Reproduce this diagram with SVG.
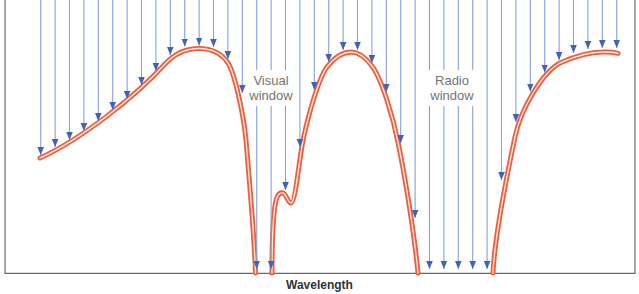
<svg xmlns="http://www.w3.org/2000/svg" width="639" height="294" viewBox="0 0 639 294">
<style>
.ray{stroke:#86a0d8;stroke-width:1.1;fill:none;marker-end:url(#head)}
.frame{stroke:#6a6a6a;stroke-width:1.2;fill:none}
.curveOut{stroke:#e8603f;stroke-width:5;fill:none;stroke-linecap:round;stroke-linejoin:round}
.curveIn{stroke:#fde2d8;stroke-width:1.4;fill:none;stroke-linecap:round;stroke-linejoin:round}
.lbl{font-family:"Liberation Sans",Arial,sans-serif;font-size:13px;fill:#747474;text-anchor:middle}
.axis{font-family:"Liberation Sans",Arial,sans-serif;font-size:12px;font-weight:bold;fill:#333;text-anchor:middle}
</style>
<defs>
<marker id="head" viewBox="0 -4 8 8" markerWidth="8" markerHeight="8" refX="8" refY="0" orient="auto" markerUnits="userSpaceOnUse">
<path d="M0,-3.3 L8,0 L0,3.3 z" fill="#4262b8"/>
</marker>
<path id="c1" d="M40,158 C80,140 135,97 165,64 C177,51 190,48.5 199,48.5 C212,48.5 222,54 228,63 C234,72 243,110 246,140 C248,165 254,230 255.5,273"/>
<path id="c2" d="M272,273 C272,240 273,208 277,197 C278.5,194 281,192.5 283,193 C286,193.5 288,203 291,203 C295,203 298,170 302,146 C306,123 318,79 327,67 C334,58 343,52 351,52 C359,52 366,58 372,66 C381,78 393,115 399,147 C404,172 414,230 418,273"/>
<path id="c3" d="M493,273 C495,230 509.5,163.5 515,137 C521,108 543,72 560,63 C572,57.5 588,52 603,52 C610,51.7 615,52.5 618,53.3"/>
</defs>
<rect x="0" y="0" width="639" height="294" fill="#ffffff"/>
<g id="frame">
<path class="frame" d="M5,0 V273.3 H635 V0"/>
</g>
<g id="curve">
<use href="#c1" class="curveOut"/><use href="#c1" class="curveIn"/>
<use href="#c2" class="curveOut"/><use href="#c2" class="curveIn"/>
<use href="#c3" class="curveOut"/><use href="#c3" class="curveIn"/>
</g>
<g id="connectors">
<line class="ray" x1="40.7" y1="0" x2="40.7" y2="155"/>
<line class="ray" x1="55.1" y1="0" x2="55.1" y2="147"/>
<line class="ray" x1="69.5" y1="0" x2="69.5" y2="140"/>
<line class="ray" x1="83.9" y1="0" x2="83.9" y2="131"/>
<line class="ray" x1="98.3" y1="0" x2="98.3" y2="121"/>
<line class="ray" x1="112.7" y1="0" x2="112.7" y2="110"/>
<line class="ray" x1="127.1" y1="0" x2="127.1" y2="99"/>
<line class="ray" x1="141.5" y1="0" x2="141.5" y2="85"/>
<line class="ray" x1="155.9" y1="0" x2="155.9" y2="71"/>
<line class="ray" x1="170.3" y1="0" x2="170.3" y2="55"/>
<line class="ray" x1="184.7" y1="0" x2="184.7" y2="46.5"/>
<line class="ray" x1="199.1" y1="0" x2="199.1" y2="45.5"/>
<line class="ray" x1="213.5" y1="0" x2="213.5" y2="47"/>
<line class="ray" x1="227.9" y1="0" x2="227.9" y2="59"/>
<line class="ray" x1="242.3" y1="0" x2="242.3" y2="93"/>
<line class="ray" x1="256.7" y1="0" x2="256.7" y2="269"/>
<line class="ray" x1="271.1" y1="0" x2="271.1" y2="269"/>
<line class="ray" x1="285.5" y1="0" x2="285.5" y2="190"/>
<line class="ray" x1="299.9" y1="0" x2="299.9" y2="147"/>
<line class="ray" x1="314.3" y1="0" x2="314.3" y2="90"/>
<line class="ray" x1="328.7" y1="0" x2="328.7" y2="62"/>
<line class="ray" x1="343.1" y1="0" x2="343.1" y2="50"/>
<line class="ray" x1="357.5" y1="0" x2="357.5" y2="50"/>
<line class="ray" x1="371.9" y1="0" x2="371.9" y2="63"/>
<line class="ray" x1="386.3" y1="0" x2="386.3" y2="92"/>
<line class="ray" x1="400.7" y1="0" x2="400.7" y2="143"/>
<line class="ray" x1="415.1" y1="0" x2="415.1" y2="218"/>
<line class="ray" x1="429.5" y1="0" x2="429.5" y2="269"/>
<line class="ray" x1="443.9" y1="0" x2="443.9" y2="269"/>
<line class="ray" x1="458.3" y1="0" x2="458.3" y2="269"/>
<line class="ray" x1="472.7" y1="0" x2="472.7" y2="269"/>
<line class="ray" x1="487.1" y1="0" x2="487.1" y2="269"/>
<line class="ray" x1="501.5" y1="0" x2="501.5" y2="180"/>
<line class="ray" x1="515.9" y1="0" x2="515.9" y2="122"/>
<line class="ray" x1="530.3" y1="0" x2="530.3" y2="91.5"/>
<line class="ray" x1="544.7" y1="0" x2="544.7" y2="72.5"/>
<line class="ray" x1="559.1" y1="0" x2="559.1" y2="60"/>
<line class="ray" x1="573.5" y1="0" x2="573.5" y2="53"/>
<line class="ray" x1="587.9" y1="0" x2="587.9" y2="49"/>
<line class="ray" x1="602.3" y1="0" x2="602.3" y2="48"/>
<line class="ray" x1="616.7" y1="0" x2="616.7" y2="48"/>
</g>
<g id="visual-window">
<rect x="249" y="70" width="44" height="36" fill="#ffffff"/>
<text class="lbl" x="271" y="85">Visual</text>
<text class="lbl" x="271" y="100">window</text>
</g>
<g id="radio-window">
<rect x="425" y="70" width="53" height="36" fill="#ffffff"/>
<text class="lbl" x="452" y="85">Radio</text>
<text class="lbl" x="452" y="100">window</text>
</g>
<g id="axis-label">
<text class="axis" x="319.5" y="289">Wavelength</text>
</g>
</svg>
